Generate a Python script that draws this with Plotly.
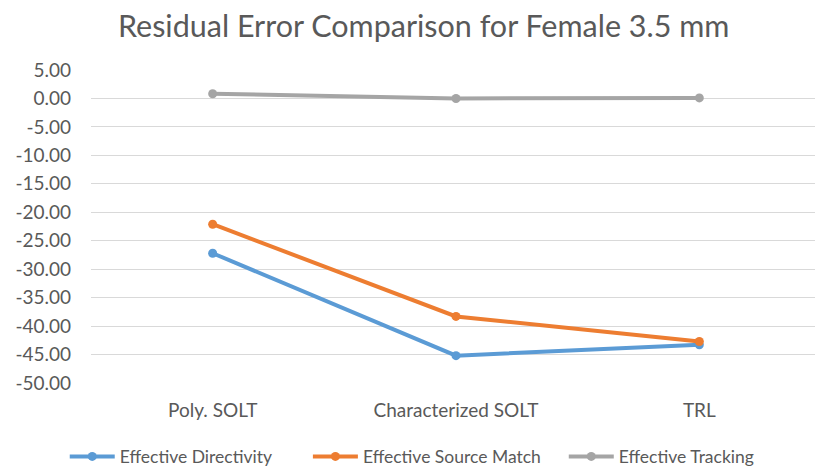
import plotly.graph_objects as go

categories = ["Poly. SOLT", "Characterized SOLT", "TRL"]
directivity = [-27.2, -45.2, -43.3]
source_match = [-22.1, -38.3, -42.7]
tracking = [0.83, 0.0, 0.1]
tick_vals = [5, 0, -5, -10, -15, -20, -25, -30, -35, -40, -45, -50]
tick_text = ["%.2f" % v for v in tick_vals]

NB = "\u00a0"
series = [
    ("Effective Directivity", NB * 7, directivity, "#5B9BD5"),
    ("Effective Source Match", NB * 4, source_match, "#ED7D31"),
    ("Effective Tracking", "", tracking, "#A5A5A5"),
]

fig = go.Figure()
for name, pad, vals, color in series:
    fig.add_trace(go.Scatter(
        x=categories, y=vals, name=name + pad, mode="lines+markers",
        line=dict(color=color, width=4),
        marker=dict(color=color, size=9),
    ))

# page has an 8px body margin, so the figure is 8px smaller and shifted
fig.update_layout(
    width=815, height=460,
    margin=dict(l=83, r=2, t=62, b=85, autoexpand=False),
    paper_bgcolor="white", plot_bgcolor="white",
    font=dict(family="Lato, Open Sans, sans-serif", color="#595959", size=17),
    title=dict(text="Residual Error Comparison for Female 3.5 mm",
               x=0.51, xanchor="center", y=0.96, yanchor="middle",
               font=dict(size=30.5, color="#595959")),
    showlegend=True,
    legend=dict(orientation="h", xref="container", yref="container",
                x=0.496, xanchor="center", y=0.025, yanchor="middle",
                font=dict(size=17.5, color="#595959"), itemwidth=45),
)
fig.update_xaxes(range=[-0.5, 2.5], showgrid=False, showline=False, zeroline=False,
                 ticks="", ticklabelstandoff=14, tickfont=dict(size=19), automargin=False)
fig.update_yaxes(range=[-50, 5], tickvals=tick_vals, ticktext=tick_text,
                 showgrid=True, gridcolor="#D9D9D9", gridwidth=1,
                 zeroline=False, showline=False, ticks="",
                 ticklabelstandoff=19, tickfont=dict(size=19), automargin=False)

fig.write_html("out.html")
